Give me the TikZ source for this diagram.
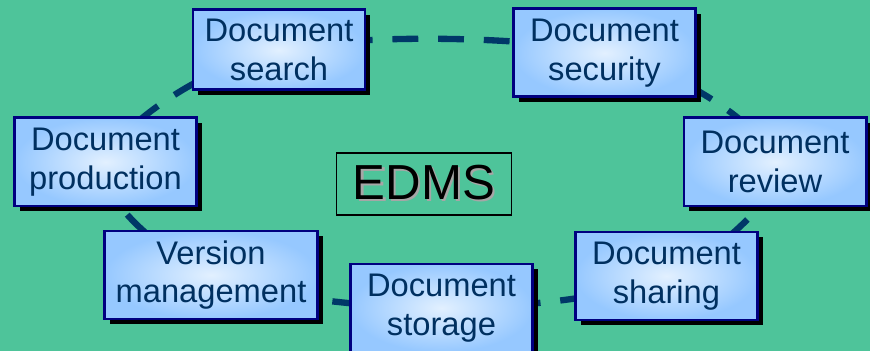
\documentclass[tikz,border=0pt]{standalone}
\usepackage{fontspec}
\setmainfont{Liberation Sans}
\usepackage{xcolor}
\usepackage{tikz}
\usetikzlibrary{shadows}
\definecolor{seagreen}{RGB}{78, 196, 154}
\definecolor{boxnavy}{RGB}{0, 0, 128}
\definecolor{textnavy}{RGB}{0, 48, 96}
\definecolor{ringblue}{RGB}{0, 56, 104}
\definecolor{paleblue}{RGB}{226, 240, 255}
\definecolor{skyblue}{RGB}{150, 200, 255}
\newcommand{\edmstext}[1]{\rlap{\hspace{1.2pt}\raisebox{-1.2pt}{\color{gray!70}#1}}#1}
\pgfdeclarelayer{bg}
\pgfdeclarelayer{ring}
\pgfsetlayers{bg,ring,main}

\begin{document}
\begin{tikzpicture}[
		task/.style = {draw = boxnavy, line width = 1.7pt, inner color = paleblue, outer color = skyblue,
			text = textnavy, align = center, minimum width = 3.64cm, minimum height = 1.76cm, inner sep = 2pt,
			font = \fontsize{18.6}{22}\selectfont,
			general shadow = {fill = black, shadow xshift = 0.1cm, shadow yshift = -0.1cm}}]
		\begin{pgfonlayer}{bg}
		\fill [seagreen] (0,0) rectangle (17.4,7.02);
		\end{pgfonlayer}
		\useasboundingbox (0,0) rectangle (17.4,7.02);
		\node (search) at (5.58,6.02) [task, minimum width = 3.44cm, minimum height = 1.6cm] {Document\\search};
		\node (security) at (12.09,5.96) [task] {Document\\security};
		\node (review) at (15.5,3.78) [task] {Document\\review};
		\node (sharing) at (13.33,1.5) [task] {Document\\sharing};
		\node (storage) at (8.83,0.86) [task] {Document\\storage};
		\node (version) at (4.22,1.52) [task, minimum width = 4.26cm] {Version\\management};
		\node (production) at (2.11,3.78) [task] {Document\\production};
		\node (edms) at (8.48,3.34) [draw = black, line width = 1pt, minimum width = 3.5cm, minimum height = 1.24cm,
			font = \fontsize{28}{30}\selectfont] {\edmstext{EDMS}};
		\begin{pgfonlayer}{ring}
		\draw [ringblue, line width = 3.6pt, dash pattern = on 14.7pt off 11.3pt]
			plot [smooth cycle, tension = 0.55] coordinates {(search) (security) (review) (sharing) (storage) (version) (production)};
		\end{pgfonlayer}
		\end{tikzpicture}
\end{document}
